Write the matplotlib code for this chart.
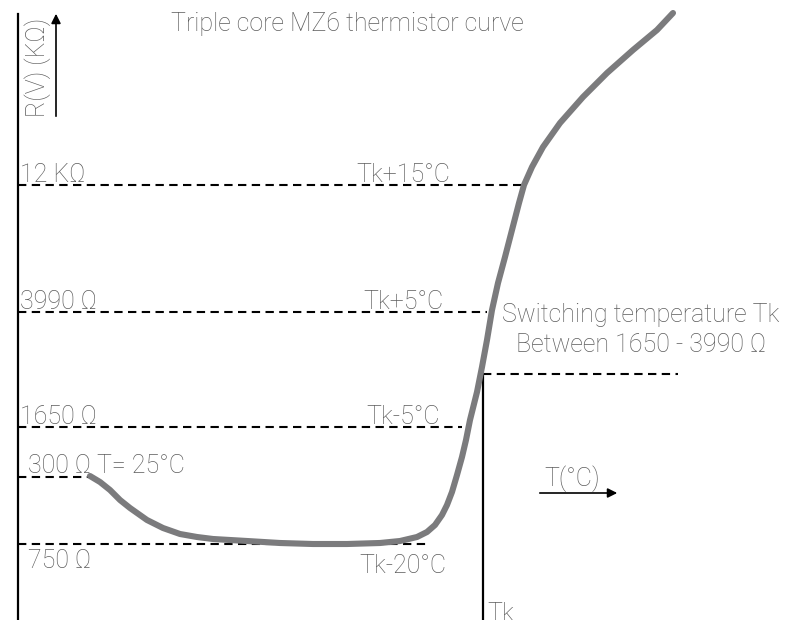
import matplotlib
matplotlib.use('Agg')
import matplotlib.pyplot as plt

plt.rcParams['font.family'] = ['Roboto', 'DejaVu Sans']
plt.rcParams['font.weight'] = 'light'

# Схема в координатах картинки (x вправо, y вниз)
curve_x = [90, 100, 110, 120, 130, 147, 163, 180, 197, 213, 247, 280, 313, 347,
           380, 400, 417, 427, 435, 442, 447, 452, 457, 462, 466, 470, 477, 482,
           487, 492, 498, 505, 512, 519, 524, 532, 543, 560, 583, 607, 633, 657, 673]
curve_y = [476, 482, 490, 500, 508, 520, 528, 534, 537, 539, 541, 543, 544, 544,
           543, 541, 537, 532, 525, 515, 505, 492, 475, 457, 440, 420, 392, 367,
           340, 310, 283, 257, 230, 203, 185, 167, 147, 123, 97, 73, 50, 30, 13]

# уровни сопротивления: (y, конец пунктира, подпись слева, подпись справа)
level_y = [185, 312, 427, 477, 544]
level_end = [525, 487, 462, 92, 430]
level_left = ['12 KΩ', '3990 Ω', '1650 Ω', '300 Ω T= 25°C', '750 Ω']
level_right = ['Tk+15°C', 'Tk+5°C', 'Tk-5°C', '', 'Tk-20°C']
left_x = [20, 20, 20, 28, 28]
left_dy = [-3, -3, -3, -4, 24]
right_x = [403, 403, 403, 403, 403]
right_dy = [-3, -3, -3, -4, 29]

tk_x = 483
tk_y = 374

text_color = '#5c5c5c'
fs = 18

fig = plt.figure(figsize=(7.85, 6.2), dpi=100)
ax = fig.add_axes([0, 0, 1, 1])
ax.set_xlim(0, 785)
ax.set_ylim(620, 0)
ax.axis('off')

# вертикальная ось
ax.plot([18, 18], [14, 620], color='black', lw=1.6)

for y, xe, lt, rt, lx, ldy, rx, rdy in zip(level_y, level_end, level_left, level_right,
                                           left_x, left_dy, right_x, right_dy):
    ax.plot([18, xe], [y, y], color='black', lw=1.5, ls=(0, (4, 2.6)))
    ax.text(lx, y + ldy, lt, fontsize=fs, color=text_color, ha='left', va='baseline')
    if rt:
        ax.text(rx, y + rdy, rt, fontsize=fs, color=text_color, ha='center', va='baseline')

# температура переключения Tk
ax.plot([tk_x, 678], [tk_y, tk_y], color='black', lw=1.5, ls=(0, (4, 2.6)))
ax.plot([tk_x, tk_x], [tk_y, 620], color='black', lw=1.6)
ax.text(tk_x + 4, 621, 'Tk', fontsize=fs, color=text_color, ha='left', va='baseline')

ax.plot(curve_x, curve_y, color='#7b7b7d', lw=4.4, solid_capstyle='round',
        solid_joinstyle='round')

ax.text(641, 322, 'Switching temperature Tk', fontsize=fs, color=text_color,
        ha='center', va='baseline')
ax.text(641, 352, 'Between 1650 - 3990 Ω', fontsize=fs, color=text_color,
        ha='center', va='baseline')

ax.text(347, 31, 'Triple core MZ6 thermistor curve', fontsize=fs, color=text_color,
        ha='center', va='baseline')

# стрелка оси R
ax.annotate('', xy=(56, 11), xytext=(56, 119),
            arrowprops=dict(arrowstyle='-|>', color='black', lw=1.2, mutation_scale=14))
ax.text(38, 67, 'R(V) (KΩ)', fontsize=fs, color=text_color, rotation=90,
        ha='center', va='center')

# стрелка оси T
ax.annotate('', xy=(620, 493), xytext=(537, 493),
            arrowprops=dict(arrowstyle='-|>', color='black', lw=1.2, mutation_scale=14))
ax.text(572, 486, 'T(°C)', fontsize=fs, color=text_color, ha='center', va='baseline')

fig.savefig('out.png', dpi=100)
